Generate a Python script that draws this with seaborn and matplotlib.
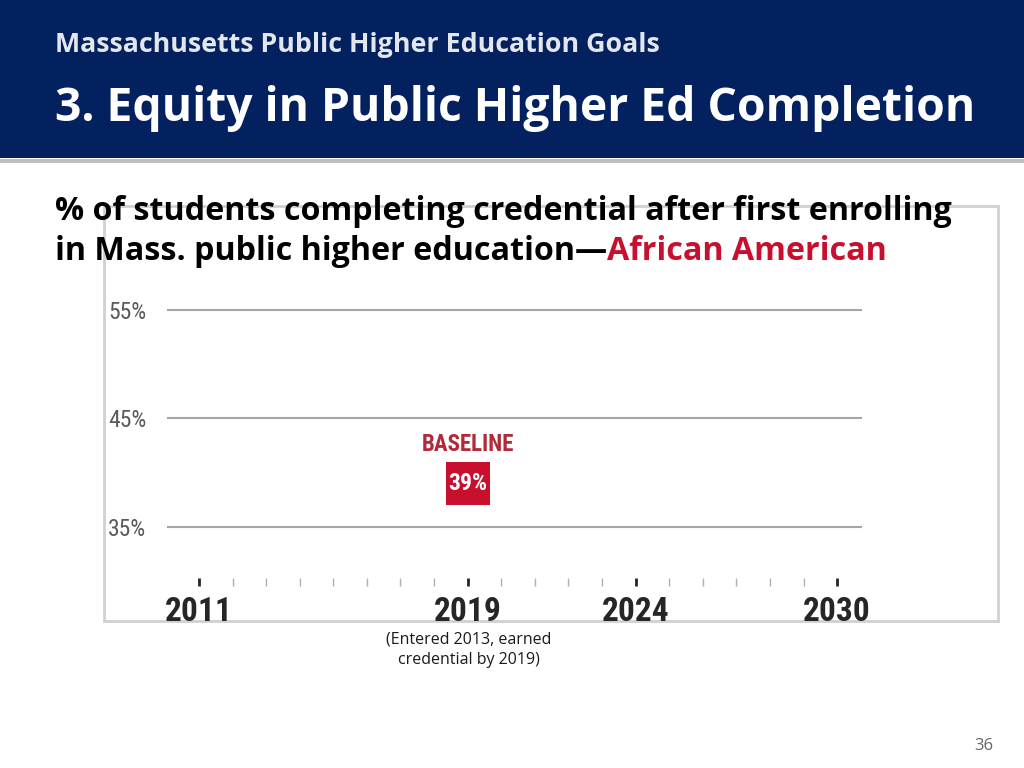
import matplotlib
matplotlib.use("Agg")
import matplotlib.pyplot as plt
from matplotlib.patches import Rectangle
from matplotlib.ticker import FixedLocator
from matplotlib import font_manager
import seaborn as sns
import pandas as pd

# chart data
years = list(range(2011, 2031))
labelled_years = [2011, 2019, 2024, 2030]
y_ticks = [35, 45, 55]
baseline_year = [2019]
baseline_value = [39]

header_small = "Massachusetts Public Higher Education Goals"
header_big = "3. Equity in Public Higher Ed Completion"
heading_line1 = "% of students completing credential after first enrolling"
heading_line2 = "in Mass. public higher education\u2014"
heading_group = "African American"
footnote = "(Entered 2013, earned\ncredential by 2019)"
page_no = "36"

NAVY = "#03215F"
RED = "#C8102E"
DARK_RED = "#B02A3A"

sns.set_theme(style="white")
plt.rcParams["font.family"] = ["Open Sans", "DejaVu Sans"]
names = {f.name for f in font_manager.fontManager.ttflist}
NARROW = [n for n in ["Roboto Condensed", "Liberation Sans Narrow", "Liberation Sans"] if n in names]
NARROW.append("DejaVu Sans")

W, H = 1024, 768
fig = plt.figure(figsize=(W / 100, H / 100), dpi=100)
fig.patch.set_facecolor("white")


def fx(px):
    return px / W


def fy(py):
    return 1 - py / H


# header band
fig.patches.append(Rectangle((0, fy(158)), 1, 158 / H, transform=fig.transFigure,
                             facecolor=NAVY, edgecolor="none", zorder=-2))
fig.patches.append(Rectangle((0, fy(163)), 1, 4 / H, transform=fig.transFigure,
                             facecolor="#BFBFBF", edgecolor="none", zorder=-2))
fig.text(fx(55), fy(45), header_small, color="#E3E6EC", fontsize=19.3, fontweight="bold",
         va="center", ha="left")
fig.text(fx(55), fy(108), header_big, color="white", fontsize=33.3, fontweight="bold",
         va="center", ha="left")

# chart image frame
fig.patches.append(Rectangle((fx(104), fy(621)), fx(998) - fx(104), fy(206) - fy(621),
                             transform=fig.transFigure, facecolor="none",
                             edgecolor="#D0D0D0", linewidth=2, zorder=-1))

# chart heading
fig.text(fx(55), fy(212), heading_line1, color="black", fontsize=23.2, fontweight="bold",
         va="center", ha="left")
t2 = fig.text(fx(55), fy(251), heading_line2, color="black", fontsize=23.2, fontweight="bold",
              va="center", ha="left")
fig.canvas.draw()
bb = t2.get_window_extent()
fig.text(bb.x1 / W, fy(251), heading_group, color=RED, fontsize=23.2, fontweight="bold",
         va="center", ha="left")

# axes
ax = fig.add_axes([fx(167), fy(586), fx(862) - fx(167), fy(299.2) - fy(586)])
ax.set_facecolor("none")
ax.set_xlim(2010.05, 2030.74)
ax.set_ylim(29.55, 56)

for v in y_ticks:
    ax.axhline(v, color="#A6A6A6", linewidth=1.5, zorder=1)

df = pd.DataFrame({"year": baseline_year, "value": baseline_value})
sns.scatterplot(data=df, x="year", y="value", marker="s", s=1000, color=RED,
                edgecolor="none", ax=ax, zorder=3, legend=False)
for x, v in zip(baseline_year, baseline_value):
    ax.annotate(f"{v}%", (x, v), ha="center", va="center", color="white",
                fontsize=17, fontweight="bold", family=NARROW, zorder=4)
    ax.annotate("BASELINE", (x, v), xytext=(0, 28), textcoords="offset points",
                ha="center", va="center", color=DARK_RED, fontsize=16.5,
                fontweight="bold", family=NARROW)

for s in ax.spines.values():
    s.set_visible(False)

ax.set_yticks(y_ticks)
ax.set_yticklabels([f"{v}%" for v in y_ticks], family=NARROW, fontsize=17,
                   color="#5A5A5A")
ax.tick_params(axis="y", length=0, pad=42.5)
for lab in ax.get_yticklabels():
    lab.set_horizontalalignment("left")

ax.xaxis.set_major_locator(FixedLocator(labelled_years))
ax.xaxis.set_minor_locator(FixedLocator([y for y in years if y not in labelled_years]))
ax.set_xticklabels([str(y) for y in labelled_years], family=NARROW, fontsize=24,
                   fontweight="bold", color="#262626")
ax.tick_params(axis="x", which="major", direction="in", length=6, width=2,
               color="#262626", bottom=True, pad=7)
ax.tick_params(axis="x", which="minor", direction="in", length=6, width=1,
               color="#B0B0B0", bottom=True)
ax.set_xlabel("")
ax.set_ylabel("")

# footnote and page number
fig.text(fx(469), fy(650), footnote, ha="center", va="center", fontsize=11.5,
         color="#1A1A1A", linespacing=1.35)
fig.text(fx(984), fy(746), page_no, ha="center", va="center", fontsize=12, color="#666666")

fig.savefig("out.png", dpi=100)
